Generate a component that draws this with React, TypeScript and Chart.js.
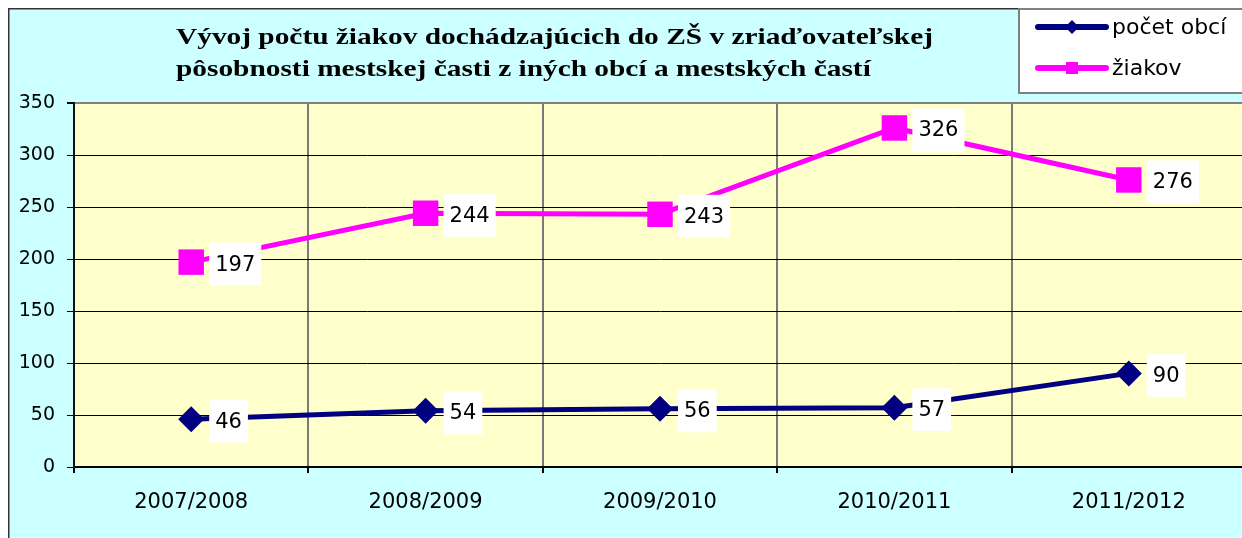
import React, { useEffect, useRef } from "react";
import { Chart, registerables } from "chart.js";

Chart.register(...registerables);

const titleLines = [
  "Vývoj počtu žiakov dochádzajúcich do ZŠ v zriaďovateľskej",
  "pôsobnosti mestskej časti z iných obcí a mestských častí",
];
const categories = ["2007/2008", "2008/2009", "2009/2010", "2010/2011", "2011/2012"];
const seriesNames = ["počet obcí", "žiakov"];
const pocetObci = [46, 54, 56, 57, 90];
const ziakov = [197, 244, 243, 326, 276];
const yTicks = { min: 0, max: 350, step: 50 };

const NAVY = "#000080";
const MAGENTA = "#FF00FF";
const SANS = "'DejaVu Sans', sans-serif";

const decorPlugin = {
  id: "decor",
  beforeDraw(chart: any) {
    const { ctx, chartArea: a, width, height } = chart;
    ctx.save();
    ctx.fillStyle = "#CCFFFF";
    ctx.fillRect(0, 0, width, height);
    ctx.fillStyle = "#FFFFCC";
    ctx.fillRect(a.left, a.top, a.right - a.left, a.bottom - a.top);
    ctx.strokeStyle = "#333333";
    ctx.lineWidth = 1.5;
    ctx.beginPath();
    ctx.moveTo(0.75, height);
    ctx.lineTo(0.75, 0.75);
    ctx.lineTo(width, 0.75);
    ctx.stroke();
    ctx.restore();
  },
  afterDatasetsDraw(chart: any) {
    const { ctx } = chart;
    ctx.save();
    ctx.font = `21px ${SANS}`;
    ctx.textBaseline = "middle";
    ctx.textAlign = "left";
    chart.data.datasets.forEach((ds: any, i: number) => {
      const meta = chart.getDatasetMeta(i);
      meta.data.forEach((pt: any, j: number) => {
        const txt = String(ds.data[j]);
        const w = ctx.measureText(txt).width + 12;
        const h = 43;
        const bx = pt.x + 18;
        const by = pt.y + 2 - h / 2;
        ctx.fillStyle = "#FFFFFF";
        ctx.fillRect(bx, by, w, h);
        ctx.fillStyle = "#000000";
        ctx.fillText(txt, bx + 6, pt.y + 3);
      });
    });
    ctx.restore();
  },
  afterDraw(chart: any) {
    const { ctx } = chart;
    ctx.save();
    // Title
    ctx.font = "bold 24px 'Liberation Serif', 'Times New Roman', serif";
    ctx.fillStyle = "#000000";
    ctx.textBaseline = "alphabetic";
    ctx.textAlign = "left";
    const natural = ctx.measureText(titleLines[0]).width;
    const sx = 757 / natural;
    titleLines.forEach((line, i) => {
      ctx.save();
      ctx.translate(168, 36 + i * 32);
      ctx.scale(sx, 1);
      ctx.fillText(line, 0, 0);
      ctx.restore();
    });
    // Legend
    const lx = 1011, ly = 1, lw = 240, lh = 84;
    ctx.fillStyle = "#FFFFFF";
    ctx.fillRect(lx, ly, lw, lh);
    ctx.strokeStyle = "#808080";
    ctx.lineWidth = 2;
    ctx.strokeRect(lx, ly, lw, lh);
    chart.data.datasets.forEach((ds: any, i: number) => {
      const y = 19 + i * 41;
      ctx.strokeStyle = ds.borderColor;
      ctx.lineWidth = 6;
      ctx.lineCap = "round";
      ctx.beginPath();
      ctx.moveTo(1030, y);
      ctx.lineTo(1098, y);
      ctx.stroke();
      ctx.fillStyle = ds.borderColor;
      const cx = 1064;
      if (ds.pointStyle === "rectRot") {
        ctx.beginPath();
        ctx.moveTo(cx, y - 7);
        ctx.lineTo(cx + 7, y);
        ctx.lineTo(cx, y + 7);
        ctx.lineTo(cx - 7, y);
        ctx.closePath();
        ctx.fill();
      } else {
        ctx.fillRect(cx - 6, y - 6, 12, 12);
      }
      ctx.fillStyle = "#000000";
      ctx.font = `22px ${SANS}`;
      ctx.textBaseline = "middle";
      ctx.fillText(ds.label, 1104, y + 1);
    });
    ctx.restore();
  },
};

export default function App() {
  const ref = useRef<HTMLCanvasElement | null>(null);
  useEffect(() => {
    if (!ref.current) return;
    const chart = new Chart(ref.current, {
      type: "line",
      data: {
        labels: categories,
        datasets: [
          {
            label: seriesNames[0],
            data: pocetObci,
            borderColor: NAVY,
            backgroundColor: NAVY,
            borderWidth: 5,
            pointStyle: "rectRot",
            pointRadius: 13,
            pointBorderWidth: 0,
            pointBackgroundColor: NAVY,
            tension: 0,
          },
          {
            label: seriesNames[1],
            data: ziakov,
            borderColor: MAGENTA,
            backgroundColor: MAGENTA,
            borderWidth: 5,
            pointStyle: "rect",
            pointRadius: 18,
            pointBorderWidth: 0,
            pointBackgroundColor: MAGENTA,
            tension: 0,
          },
        ],
      },
      options: {
        responsive: false,
        animation: false,
        events: [],
        layout: { autoPadding: false, padding: { top: 95, left: 0, right: 0, bottom: 0 } },
        plugins: {
          legend: { display: false },
          title: { display: false },
          tooltip: { enabled: false },
        },
        scales: {
          x: {
            type: "category",
            offset: true,
            grid: {
              offset: true,
              color: "#7a7a7a",
              lineWidth: 2,
              tickLength: 6,
              tickColor: "#000000",
            },
            border: { color: "#000000", width: 2 },
            ticks: {
              color: "#000000",
              font: { family: "DejaVu Sans", size: 21 },
              padding: 17,
              maxRotation: 0,
            },
            afterFit(scale: any) {
              scale.height = 71;
              scale.paddingLeft = 0;
              scale.paddingRight = 0;
            },
          },
          y: {
            min: yTicks.min,
            max: yTicks.max,
            ticks: {
              stepSize: yTicks.step,
              color: "#000000",
              font: { family: "DejaVu Sans", size: 19 },
              padding: 12,
            },
            grid: {
              color: (c: any) => (c.tick && c.tick.value === yTicks.max ? "#808080" : "#000000"),
              lineWidth: (c: any) => (c.tick && c.tick.value === yTicks.max ? 2 : 1),
              tickLength: 7,
              tickColor: "#000000",
            },
            border: { color: "#111111", width: 2 },
            afterFit(scale: any) {
              scale.width = 66;
              scale.paddingTop = 0;
              scale.paddingBottom = 0;
            },
          },
        },
      },
      plugins: [decorPlugin],
    });
    return () => chart.destroy();
  }, []);
  return (
    <div
      style={{
        position: "fixed",
        left: 8,
        top: 8,
        width: 1238,
        height: 530,
      }}
    >
      <canvas ref={ref} width={1238} height={530} style={{ display: "block" }} />
    </div>
  );
}
